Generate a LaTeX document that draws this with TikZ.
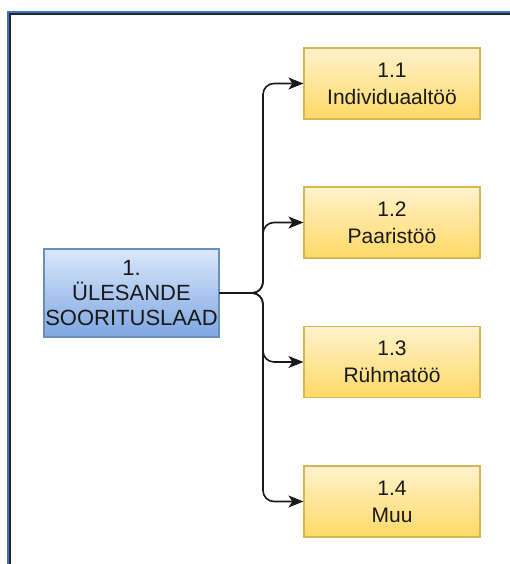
\documentclass[tikz,border=0pt]{standalone}
\usepackage{fontspec}
\setmainfont{Liberation Sans}
\usetikzlibrary{arrows.meta}

\definecolor{frameblue}{HTML}{4472C4}
\definecolor{framedark}{HTML}{1F2A2A}
\definecolor{blueTop}{HTML}{DAE8FC}
\definecolor{blueBot}{HTML}{7EA6E0}
\definecolor{blueLine}{HTML}{6C8EBF}
\definecolor{yelTop}{HTML}{FFF2CC}
\definecolor{yelBot}{HTML}{FFD966}
\definecolor{yelLine}{HTML}{D6B656}

\tikzset{
  rootbox/.style={draw=blueLine, line width=1.2pt, top color=blueTop, bottom color=blueBot,
    minimum width=175pt, minimum height=88pt, align=center, inner sep=1pt,
    font=\fontsize{22}{25}\selectfont, text=black!90},
  leafbox/.style={draw=yelLine, line width=1.2pt, top color=yelTop, bottom color=yelBot,
    minimum width=176pt, minimum height=71pt, align=center, inner sep=1pt,
    font=\fontsize{21}{27}\selectfont, text=black!90},
  conn/.style={line width=1.6pt, black!90, rounded corners=11pt,
    -{Stealth[length=15pt,width=12pt,inset=4pt]}},
}

\begin{document}
\begin{tikzpicture}[x=1pt, y=-1pt]
  \useasboundingbox (0,0) rectangle (510,564);

  % page frame: blue outer rule with a dark inner rule
  \draw[frameblue, line width=2pt] (8.3,564) -- (8.3,12.3) -- (510,12.3);
  \draw[framedark, line width=1.3pt] (9.9,564) -- (9.9,13.9) -- (510,13.9);

  % boxes
  \node[rootbox] (root) at (131.5,293) {1.\\ÜLESANDE\\SOORITUSLAAD};
  \node[leafbox] (b1) at (392,83.5) {1.1\\Individuaaltöö};
  \node[leafbox] (b2) at (392,222.5) {1.2\\Paaristöö};
  \node[leafbox] (b3) at (392,362) {1.3\\Rühmatöö};
  \node[leafbox] (b4) at (392,501.5) {1.4\\Muu};

  % branching point of the connectors
  \coordinate (trunk) at (263,293);

  \draw[conn] (root.east) -- (trunk) |- (b1.west);
  \draw[conn] (root.east) -- (trunk) |- (b2.west);
  \draw[conn] (root.east) -- (trunk) |- (b3.west);
  \draw[conn] (root.east) -- (trunk) |- (b4.west);
\end{tikzpicture}
\end{document}
